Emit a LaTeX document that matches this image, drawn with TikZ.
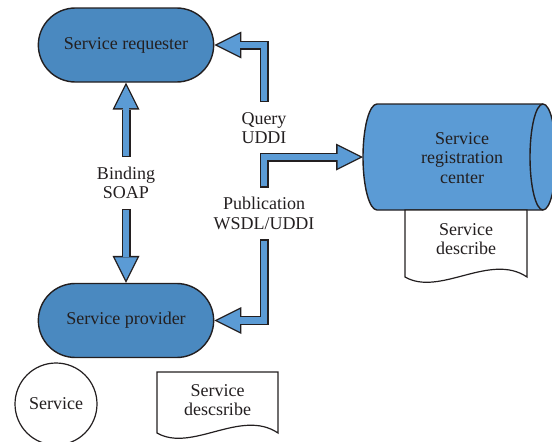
\documentclass[tikz,border=0pt]{standalone}
\usepackage{fontspec}
\setmainfont{Liberation Serif}
\usetikzlibrary{arrows.meta,shapes.misc}

\definecolor{pillblue}{RGB}{74,137,192}
\definecolor{lightblue}{RGB}{91,155,213}
\definecolor{inkline}{RGB}{35,31,32}

\begin{document}
\begin{tikzpicture}[x=1pt, y=-1pt, font=\fontsize{18}{19.5}\selectfont, text=inkline,
    pill/.style = {rounded rectangle, draw=inkline, line width=1.4pt, fill=pillblue, minimum width=182pt, minimum height=74pt},
    lbl/.style = {align=center, inner xsep=2pt, inner ysep=9.5pt},
    flowout/.style = {draw=inkline, line width=9pt, -{Triangle[length=27pt, width=27pt, line width=0pt]}},
    flowin/.style = {draw=lightblue, line width=6.2pt, shorten <=1.4pt, shorten >=3pt, -{Triangle[length=22.5pt, width=22.5pt, line width=0pt]}}]
            \useasboundingbox (0,0) rectangle (552,442);

            % Registration center (drum)
            \draw[draw=inkline, line width=1.4pt, fill=lightblue] (377,104) -- (543,104)
                arc[start angle=-90, end angle=90, x radius=13, y radius=53] -- (377,210)
                arc[start angle=90, end angle=270, x radius=14, y radius=53] -- cycle;
            \draw[draw=inkline, line width=1.4pt] (543,104) arc[start angle=-90, end angle=-270, x radius=13, y radius=53];
            \coordinate (regw) at (363,157);

            % Nodes
            \node[pill] (req) at (126,45) {Service requester};
            \node[pill] (prov) at (126,320.5) {Service provider};
            \node[align=center] (reg) at (462,158) {Service\\registration\\center};
            \node[lbl] (bind) at (126,183) {Binding\\SOAP};
            \node[lbl, inner ysep=10pt] (query) at (264,128) {Query\\UDDI};
            \node[lbl] (pub) at (264,213.5) {Publication\\WSDL/UDDI};
            \node[circle, draw=inkline, line width=1.2pt, fill=white, minimum size=82pt] (srv) at (56,404) {Service};
            \node[align=center] (sd) at (466,239) {Service\\describe};
            \node[align=center] (sdd) at (217.5,400) {Service\\descsribe};

            % Documents
            \draw[draw=inkline, line width=1.2pt, fill=white] (sd.center) ++(-61,-29) -- ++(122,0) -- ++(0,67)
                .. controls +(-37,-25) and +(35,20) .. ++(-122,0) -- cycle;
            \node[align=center] at (sd) {Service\\describe};
            \draw[draw=inkline, line width=1.2pt, fill=white] (sdd.center) ++(-60.5,-28) -- ++(121,0) -- ++(0,61)
                .. controls +(-37,-25) and +(35,20) .. ++(-121,0) -- cycle;
            \node[align=center] at (sdd) {Service\\descsribe};

            % Lines
            \draw[flowout] (bind.north) -- (req.south);
            \draw[flowin] (bind.north) -- (req.south);
            \draw[flowout] (bind.south) -- (prov.north);
            \draw[flowin] (bind.south) -- (prov.north);
            \draw[flowout] (query.north) |- (req.east);
            \draw[flowin] (query.north) |- (req.east);
            \draw[flowout] (pub.north) |- (regw);
            \draw[flowin] (pub.north) |- (regw);
            \draw[flowout] (pub.south) |- (prov.east);
            \draw[flowin] (pub.south) |- (prov.east);
        \end{tikzpicture}
\end{document}
